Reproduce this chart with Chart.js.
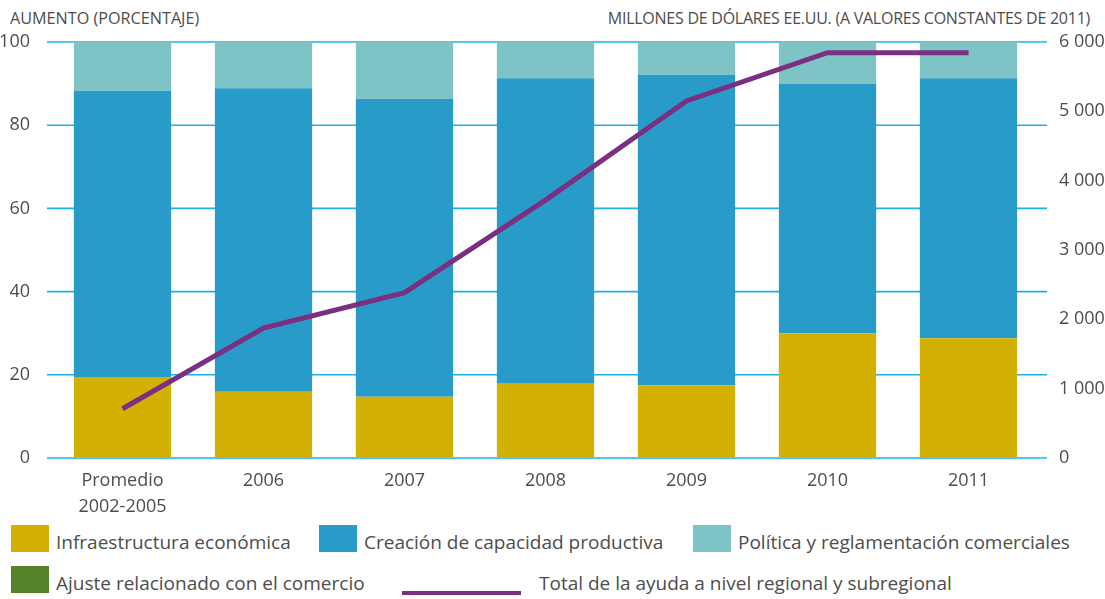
<!DOCTYPE html>
<html>
<head>
<meta charset="utf-8">
<script src="https://cdn.jsdelivr.net/npm/chart.js@4"></script>
<style>
  body { margin: 0; background: #fff; font-family: 'Open Sans', sans-serif; color: #4d4d4d; }
  #wrap { position: relative; width: 1105px; height: 599px; }
  #chartBox { position: absolute; left: 0; top: 0; }
  .axisTitle { position: absolute; top: 7px; font-size: 16.2px; white-space: nowrap; }
  #titleLeft { left: 10px; }
  #titleRight { right: 15px; font-size: 16px; letter-spacing: -0.25px; }
  .legItem { position: absolute; font-size: 19px; white-space: nowrap; display: flex; align-items: flex-start; }
  .legItem .txt { padding-top: 4px; }
  .legBox { display: inline-block; width: 38px; height: 27px; margin-right: 7px; }
  .legLine { display: inline-block; width: 119px; height: 4px; margin-right: 18px; margin-top: 25px; }
</style>
</head>
<body>
<div id="wrap">
  <div class="axisTitle" id="titleLeft">AUMENTO (PORCENTAJE)</div>
  <div class="axisTitle" id="titleRight">MILLONES DE DÓLARES EE.UU. (A VALORES CONSTANTES DE 2011)</div>
  <div id="chartBox"><canvas id="chart" width="1105" height="520"></canvas></div>
  <div id="legend"></div>
</div>
<script>
const categories = [['Promedio', '2002-2005'], '2006', '2007', '2008', '2009', '2010', '2011'];

// share of aid by category (percent)
const infraestructura = [19.5, 15.9, 14.7, 18.0, 17.5, 30.0, 28.8];
const capacidad = [68.8, 73.0, 71.6, 73.3, 74.6, 59.9, 62.5];
const politica = [11.7, 11.1, 13.7, 8.7, 7.9, 10.1, 8.7];
const ajuste = [0, 0, 0, 0, 0, 0, 0];

// total regional and subregional aid (millions USD, 2011 constant)
const totalAyuda = [710, 1875, 2385, 3720, 5150, 5845, 5845];

const textColor = '#4d4d4d';
const fontFamily = "'Open Sans', sans-serif";

// grid lines run a bit past the plot on both sides and sit behind the bars
const gridLines = {
  id: 'gridLines',
  beforeDatasetsDraw(chart) {
    const ctx = chart.ctx;
    const area = chart.chartArea;
    const y = chart.scales.y;
    ctx.save();
    ctx.strokeStyle = '#1fb0e6';
    ctx.lineWidth = 1.6;
    y.ticks.forEach(function (t) {
      const py = y.getPixelForValue(t.value);
      ctx.beginPath();
      ctx.moveTo(area.left - 5, py);
      ctx.lineTo(area.right + 8, py);
      ctx.stroke();
    });
    ctx.restore();
  }
};

const barSets = [
  { label: 'Infraestructura económica', data: infraestructura, backgroundColor: '#d3b004' },
  { label: 'Creación de capacidad productiva', data: capacidad, backgroundColor: '#299bc8' },
  { label: 'Política y reglamentación comerciales', data: politica, backgroundColor: '#7ec3c6' },
  { label: 'Ajuste relacionado con el comercio', data: ajuste, backgroundColor: '#55832a' }
];

const datasets = barSets.map(function (s) {
  return {
    type: 'bar',
    label: s.label,
    data: s.data,
    backgroundColor: s.backgroundColor,
    yAxisID: 'y',
    stack: 'share',
    order: 1,
    barPercentage: 0.69,
    categoryPercentage: 1.0
  };
});

datasets.push({
  type: 'line',
  label: 'Total de la ayuda a nivel regional y subregional',
  data: totalAyuda,
  borderColor: '#7a2f80',
  backgroundColor: '#7a2f80',
  borderWidth: 5,
  pointRadius: 0,
  tension: 0,
  yAxisID: 'y1',
  order: 0
});

const ctx = document.getElementById('chart').getContext('2d');
const chart = new Chart(ctx, {
  data: { labels: categories, datasets: datasets },
  plugins: [gridLines],
  options: {
    responsive: false,
    animation: false,
    layout: { padding: { top: 42, left: 0, right: 0, bottom: 0 } },
    plugins: {
      legend: { display: false },
      tooltip: { enabled: false }
    },
    scales: {
      x: {
        stacked: true,
        grid: { display: false },
        border: { display: false },
        ticks: {
          color: textColor,
          padding: 2,
          maxRotation: 0,
          font: { family: fontFamily, size: 18, lineHeight: 1.45 }
        },
        afterFit: function (s) { s.height = 62; }
      },
      y: {
        stacked: true,
        position: 'left',
        min: 0,
        max: 100,
        grid: { display: false },
        border: { display: false },
        ticks: {
          stepSize: 20,
          color: textColor,
          padding: 14,
          font: { family: fontFamily, size: 18 }
        },
        afterFit: function (s) { s.width = 52; }
      },
      y1: {
        position: 'right',
        min: 0,
        max: 6000,
        grid: { display: false },
        border: { display: false },
        ticks: {
          stepSize: 1000,
          color: textColor,
          padding: 12,
          font: { family: fontFamily, size: 18 },
          callback: function (value) {
            return String(value).replace(/\B(?=(\d{3})+(?!\d))/g, ' ');
          }
        },
        afterFit: function (s) { s.width = 66; }
      }
    }
  }
});

// html legend built from the chart datasets
const legendSpots = [
  { left: 11, top: 525 },
  { left: 319, top: 525 },
  { left: 693, top: 525 },
  { left: 11, top: 566 },
  { left: 402, top: 566 }
];
const legend = document.getElementById('legend');
chart.data.datasets.forEach(function (ds, i) {
  const item = document.createElement('div');
  item.className = 'legItem';
  item.style.left = legendSpots[i].left + 'px';
  item.style.top = legendSpots[i].top + 'px';
  const mark = document.createElement('span');
  if (ds.type === 'line') {
    mark.className = 'legLine';
    mark.style.background = ds.borderColor;
  } else {
    mark.className = 'legBox';
    mark.style.background = ds.backgroundColor;
  }
  item.appendChild(mark);
  const txt = document.createElement('span');
  txt.className = 'txt';
  txt.textContent = ds.label;
  item.appendChild(txt);
  legend.appendChild(item);
});
</script>
</body>
</html>
